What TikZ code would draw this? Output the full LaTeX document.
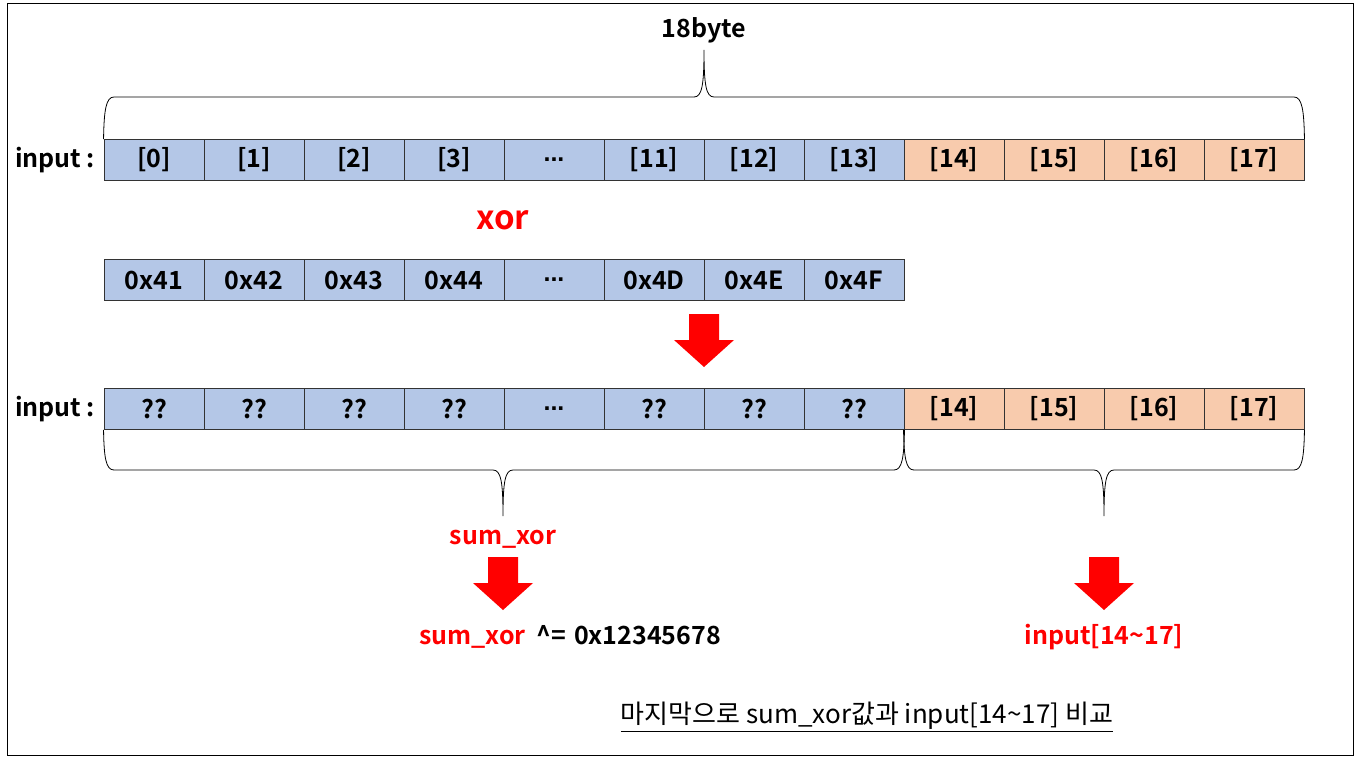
\documentclass[tikz,border=0pt]{standalone}
\usepackage{fontspec}
\setmainfont{Noto Sans CJK KR}[BoldFont={Noto Sans CJK KR Bold}]
\newfontfamily\krfont{Noto Sans CJK KR}
\newfontfamily\dotfont{Liberation Sans}
\usepackage{tikz}
\usetikzlibrary{positioning}

\definecolor{cellblue}{HTML}{B4C7E7}
\definecolor{cellorange}{HTML}{F8CBAD}

% red block arrow pointing down, #1 = top middle of the shaft
\newcommand\redarrow[1]{\fill[red] (#1) ++(-15,0) -- ++(30,0) -- ++(0,26) -- ++(15,0) -- ++(-30,27) -- ++(-30,-27) -- ++(15,0) -- cycle;}
% the skipped cells (dots sit on the baseline)
\newcommand\gapcell{{\dotfont\bfseries ...}}

\begin{document}
\begin{tikzpicture}[
    x=1pt, y=-1pt,
    every node/.style={font=\bfseries\fontsize{25}{29}\selectfont},
    cell/.style={draw=black!80, line width=0.9pt, minimum width=100pt, minimum height=41pt, inner sep=0pt},
    blue cell/.style={cell, fill=cellblue},
    orange cell/.style={cell, fill=cellorange},
    brace/.style={draw, line width=0.8pt},
    redlbl/.style={text=red},
    note/.style={font=\krfont\fontsize{26}{30}\selectfont}
]
    \useasboundingbox (0,0) rectangle (1357,760);
    \draw[line width=1pt] (7,4) rectangle (1353,755);

    % first row : input
    \foreach \lbl [count=\i from 0] in {[0],[1],[2],[3],\gapcell,[11],[12],[13]}
        \node[blue cell] (a\i) at ({154+100*\i},160) {\lbl};
    \foreach \lbl [count=\i from 8] in {[14],[15],[16],[17]}
        \node[orange cell] (a\i) at ({154+100*\i},160) {\lbl};
    \node[left=5pt of a0] (inA) {input :};

    % brace over all 18 bytes
    \coordinate (tipA) at (704,50);
    \draw[brace] (a0.north west) .. controls (104,110) and (106,97) .. (114,97) -- (694,97)
        .. controls (702,97) and (704,85) .. (tipA) .. controls (704,85) and (706,97) .. (714,97)
        -- (1294,97) .. controls (1302,97) and (1304,110) .. (a11.north east);
    \node[above=3pt of tipA] (len) {18byte};

    \node[redlbl, font=\bfseries\fontsize{33}{37}\selectfont] (xor) at (503,220) {xor};

    % second row : key
    \foreach \lbl [count=\i from 0] in {0x41,0x42,0x43,0x44,\gapcell,0x4D,0x4E,0x4F}
        \node[blue cell] (b\i) at ({154+100*\i},280) {\lbl};

    \redarrow{704,314}

    % third row : result
    \foreach \lbl [count=\i from 0] in {??,??,??,??,\gapcell,??,??,??}
        \node[blue cell] (c\i) at ({154+100*\i},409) {\lbl};
    \foreach \lbl [count=\i from 8] in {[14],[15],[16],[17]}
        \node[orange cell] (c\i) at ({154+100*\i},409) {\lbl};
    \node[left=5pt of c0] (inC) {input :};

    % braces under the two parts
    \coordinate (tipB) at (503,516);
    \draw[brace] (c0.south west) .. controls (104,458) and (106,470) .. (114,470) -- (493,470)
        .. controls (501,470) and (503,482) .. (tipB) .. controls (503,482) and (505,470) .. (513,470)
        -- (894,470) .. controls (902,470) and (904,458) .. (c7.south east);
    \coordinate (tipC) at (1104,516);
    \draw[brace] (c8.south west) .. controls (904,458) and (906,470) .. (914,470) -- (1094,470)
        .. controls (1102,470) and (1104,482) .. (tipC) .. controls (1104,482) and (1106,470) .. (1114,470)
        -- (1294,470) .. controls (1302,470) and (1304,458) .. (c11.south east);

    \node[redlbl] (sum) at (503,539) {sum\_xor};
    \redarrow{503,557}
    \node (sumres) at (570,637) {\textcolor{red}{sum\_xor}\hspace{0.2em} \textasciicircum= \hspace{0.1em}0x12345678};

    \redarrow{1104,557}
    \node[redlbl] (tail) at (1104,637) {input[14\textasciitilde17]};

    \node[note] (cmp) at (867,717) {\underline{마지막으로 sum\_xor값과 input[14\textasciitilde17] 비교}};
\end{tikzpicture}
\end{document}
